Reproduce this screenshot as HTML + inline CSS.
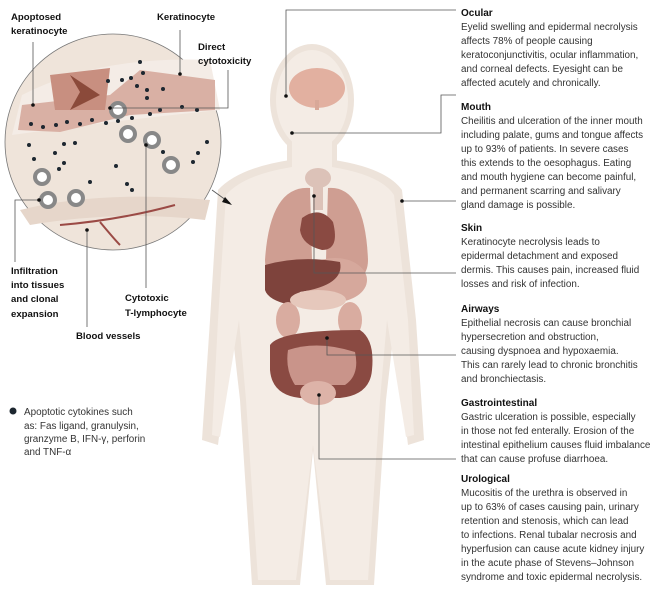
<!DOCTYPE html>
<html><head><meta charset="utf-8"><style>
html,body{margin:0;padding:0;background:#fff;}
svg{display:block;}
text{font-family:"Liberation Sans",sans-serif;}
.h{font-size:10px;font-weight:bold;fill:#111;}
.t{font-size:9.9px;fill:#333;}
.l{font-size:9.6px;font-weight:bold;fill:#111;}
</style></head><body>
<svg width="660" height="589" viewBox="0 0 660 589" xmlns="http://www.w3.org/2000/svg">
<g fill="#ede3da">
<ellipse cx="312" cy="100" rx="42" ry="56"/>
<rect x="287" y="140" width="50" height="40"/>
<path d="M218 190 Q238 168 290 160 L334 160 Q386 168 402 190 L416 320 L424 440 L408 445 L394 330 L386 400 L374 585 L326 585 L313 450 L300 585 L252 585 L240 400 L232 330 L218 445 L202 440 L210 320 Z"/>
</g>
<g fill="#f4ece5">
<ellipse cx="312" cy="100" rx="36" ry="50"/>
<rect x="292" y="140" width="40" height="40"/>
<path d="M226 195 Q243 175 292 167 L332 167 Q381 175 394 195 L408 320 L414 435 L406 437 L387 320 L380 400 L368 580 L330 580 L313 445 L296 580 L258 580 L246 400 L239 320 L220 437 L212 435 L218 320 Z"/>
</g>
<ellipse cx="317" cy="88" rx="28" ry="20" fill="#e2b0a0"/>
<rect x="315" y="100" width="4" height="10" fill="#d8a898"/>
<ellipse cx="318" cy="178" rx="13" ry="10" fill="#dcc2b8"/>
<rect x="313" y="180" width="10" height="30" fill="#dcc2b8"/>
<path d="M310 188 Q270 185 265 260 Q265 285 300 285 L312 260 Z" fill="#cf9e92"/>
<path d="M328 188 Q365 185 368 260 Q368 285 335 285 L326 260 Z" fill="#cf9e92"/>
<path d="M302 218 Q320 205 333 222 Q340 250 322 250 Q302 245 300 230 Z" fill="#8a4a42"/>
<ellipse cx="335" cy="280" rx="32" ry="22" fill="#d6a89c"/>
<path d="M265 265 Q300 255 340 262 Q345 285 300 292 L290 305 Q268 300 265 290 Z" fill="#7e433c"/>
<ellipse cx="350" cy="320" rx="12" ry="18" fill="#d9aca0"/>
<ellipse cx="288" cy="320" rx="12" ry="18" fill="#d9aca0"/>
<ellipse cx="318" cy="300" rx="28" ry="10" fill="#e6c8bc"/>
<path d="M270 345 Q280 330 360 330 Q375 340 372 370 Q370 395 340 398 L300 398 Q272 395 270 370 Z" fill="#8a4a42"/>
<path d="M288 350 Q318 340 355 352 Q360 375 345 385 L295 385 Q285 370 288 350 Z" fill="#c9948a"/>
<ellipse cx="318" cy="393" rx="18" ry="12" fill="#ddb3a8"/>
<g stroke="#555" stroke-width="0.8" fill="none">
<polyline points="456,10 286,10 286,96"/>
<polyline points="456,95 441,95 441,133 292,133"/>
<polyline points="456,201 402,201"/>
<polyline points="456,273 314,273 314,196"/>
<polyline points="456,355 327,355 327,338"/>
<polyline points="456,459 319,459 319,395"/>
</g>
<g fill="#111">
<circle cx="286" cy="96" r="1.8"/><circle cx="292" cy="133" r="1.8"/><circle cx="402" cy="201" r="1.8"/>
<circle cx="314" cy="196" r="1.8"/><circle cx="327" cy="338" r="1.8"/><circle cx="319" cy="395" r="1.8"/>
</g>
<circle cx="113" cy="142" r="108" fill="#efe4da" stroke="#777" stroke-width="0.8"/>
<path d="M22 95 Q100 55 210 60 L220 110 Q120 120 12 135 Z" fill="#f4ece6"/>
<path d="M22 105 L110 95 L140 70 L215 80 L215 110 L130 115 L60 132 L18 130 Z" fill="#d9b0a4"/>
<path d="M50 75 L110 68 L105 110 L55 110 Z" fill="#c88f80"/>
<path d="M70 75 L100 95 L70 110 L80 92 Z" fill="#8b4a3a"/>
<path d="M20 210 Q100 190 210 200 L205 220 Q120 210 30 225 Z" fill="#e6d6ca"/>
<g stroke="#9b4a45" stroke-width="2" fill="none"><path d="M60 225 Q120 220 175 205"/><path d="M100 222 Q115 240 120 245"/></g>
<g fill="#fff" stroke="#888" stroke-width="4">
<circle cx="118" cy="110" r="7"/><circle cx="128" cy="134" r="7"/><circle cx="152" cy="140" r="7"/>
<circle cx="171" cy="165" r="7"/><circle cx="42" cy="177" r="7"/><circle cx="48" cy="200" r="7"/><circle cx="76" cy="198" r="7"/>
</g>
<g fill="#1d2730">
<circle cx="31" cy="124" r="2"/><circle cx="43" cy="127" r="2"/><circle cx="56" cy="125" r="2"/><circle cx="67" cy="122" r="2"/><circle cx="80" cy="124" r="2"/><circle cx="92" cy="120" r="2"/><circle cx="106" cy="123" r="2"/><circle cx="118" cy="121" r="2"/><circle cx="132" cy="118" r="2"/><circle cx="150" cy="114" r="2"/><circle cx="160" cy="110" r="2"/><circle cx="182" cy="107" r="2"/><circle cx="197" cy="110" r="2"/>
<circle cx="140" cy="62" r="2"/><circle cx="143" cy="73" r="2"/><circle cx="131" cy="78" r="2"/><circle cx="122" cy="80" r="2"/><circle cx="108" cy="81" r="2"/><circle cx="137" cy="86" r="2"/><circle cx="147" cy="90" r="2"/><circle cx="163" cy="89" r="2"/><circle cx="147" cy="98" r="2"/>
<circle cx="29" cy="145" r="2"/><circle cx="55" cy="153" r="2"/><circle cx="64" cy="144" r="2"/><circle cx="75" cy="143" r="2"/><circle cx="34" cy="159" r="2"/><circle cx="59" cy="169" r="2"/><circle cx="64" cy="163" r="2"/><circle cx="116" cy="166" r="2"/><circle cx="90" cy="182" r="2"/><circle cx="127" cy="184" r="2"/><circle cx="132" cy="190" r="2"/><circle cx="163" cy="152" r="2"/><circle cx="193" cy="162" r="2"/><circle cx="198" cy="153" r="2"/><circle cx="207" cy="142" r="2"/>
</g>
<g stroke="#555" stroke-width="0.8" fill="none">
<polyline points="33,105 33,42"/>
<polyline points="180,74 180,30"/>
<polyline points="110,108 228,108 228,70"/>
<polyline points="39,200 15,200 15,262"/>
<polyline points="87,230 87,327"/>
<polyline points="146,145 146,288"/>
<line x1="212" y1="190" x2="230" y2="203"/>
</g>
<path d="M232 205 L225 197 L222 202 Z" fill="#111"/>
<g fill="#111"><circle cx="33" cy="105" r="1.8"/><circle cx="180" cy="74" r="1.8"/><circle cx="110" cy="108" r="1.8"/><circle cx="39" cy="200" r="1.8"/><circle cx="87" cy="230" r="1.8"/><circle cx="146" cy="145" r="1.8"/></g>
<text class="l" x="11" y="20">Apoptosed</text><text class="l" x="11" y="34">keratinocyte</text>
<text class="l" x="157" y="20">Keratinocyte</text>
<text class="l" x="198" y="50">Direct</text><text class="l" x="198" y="64">cytotoxicity</text>
<text class="l" x="11" y="274">Infiltration</text><text class="l" x="11" y="288">into tissues</text><text class="l" x="11" y="302">and clonal</text><text class="l" x="11" y="317">expansion</text>
<text class="l" x="125" y="301">Cytotoxic</text><text class="l" x="125" y="316">T-lymphocyte</text>
<text class="l" x="76" y="339">Blood vessels</text>
<circle cx="13" cy="411" r="3.5" fill="#1d2730"/>
<g class="t"><text x="24" y="415">Apoptotic cytokines such</text><text x="24" y="429">as: Fas ligand, granulysin,</text><text x="24" y="442">granzyme B, IFN-γ, perforin</text><text x="24" y="455">and TNF-α</text></g>
<text class="h" x="461" y="16">Ocular</text>
<g class="t"><text x="461" y="30">Eyelid swelling and epidermal necrolysis</text><text x="461" y="44">affects 78% of people causing</text><text x="461" y="58">keratoconjunctivitis, ocular inflammation,</text><text x="461" y="72">and corneal defects. Eyesight can be</text><text x="461" y="86">affected acutely and chronically.</text></g>
<text class="h" x="461" y="110">Mouth</text>
<g class="t"><text x="461" y="124">Cheilitis and ulceration of the inner mouth</text><text x="461" y="138">including palate, gums and tongue affects</text><text x="461" y="152">up to 93% of patients. In severe cases</text><text x="461" y="166">this extends to the oesophagus. Eating</text><text x="461" y="180">and mouth hygiene can become painful,</text><text x="461" y="194">and permanent scarring and salivary</text><text x="461" y="208">gland damage is possible.</text></g>
<text class="h" x="461" y="231">Skin</text>
<g class="t"><text x="461" y="245">Keratinocyte necrolysis leads to</text><text x="461" y="259">epidermal detachment and exposed</text><text x="461" y="273">dermis. This causes pain, increased fluid</text><text x="461" y="287">losses and risk of infection.</text></g>
<text class="h" x="461" y="312">Airways</text>
<g class="t"><text x="461" y="326">Epithelial necrosis can cause bronchial</text><text x="461" y="340">hypersecretion and obstruction,</text><text x="461" y="354">causing dyspnoea and hypoxaemia.</text><text x="461" y="368">This can rarely lead to chronic bronchitis</text><text x="461" y="382">and bronchiectasis.</text></g>
<text class="h" x="461" y="406">Gastrointestinal</text>
<g class="t"><text x="461" y="420">Gastric ulceration is possible, especially</text><text x="461" y="434">in those not fed enterally. Erosion of the</text><text x="461" y="448">intestinal epithelium causes fluid imbalance</text><text x="461" y="462">that can cause profuse diarrhoea.</text></g>
<text class="h" x="461" y="482">Urological</text>
<g class="t"><text x="461" y="496">Mucositis of the urethra is observed in</text><text x="461" y="510">up to 63% of cases causing pain, urinary</text><text x="461" y="524">retention and stenosis, which can lead</text><text x="461" y="538">to infections. Renal tubalar necrosis and</text><text x="461" y="552">hyperfusion can cause acute kidney injury</text><text x="461" y="566">in the acute phase of Stevens–Johnson</text><text x="461" y="580">syndrome and toxic epidermal necrolysis.</text></g>
</svg>
</body></html>
